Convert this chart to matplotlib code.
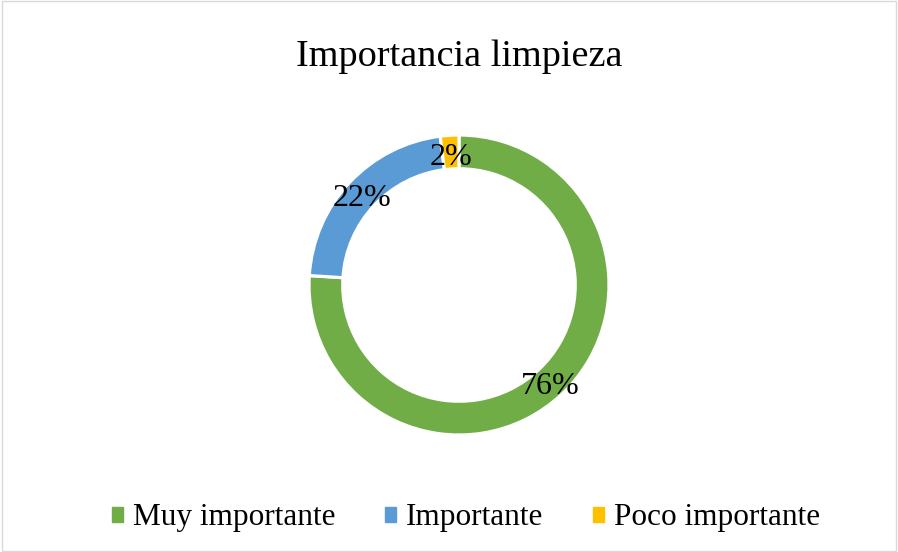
import matplotlib
matplotlib.use("Agg")
import matplotlib.pyplot as plt
from matplotlib.patches import Rectangle

categories = ["Muy importante", "Importante", "Poco importante"]
values = [76, 22, 2]
colors = ["#70AD47", "#5B9BD5", "#FFC000"]
title = "Importancia limpieza"

plt.rcParams['font.family'] = ['Liberation Serif', 'DejaVu Serif']

fig = plt.figure(figsize=(8.98, 5.52), dpi=100)
fig.patches.append(Rectangle((0.002, 0.002), 0.996, 0.996, transform=fig.transFigure,
                             fill=False, edgecolor="#D9D9D9", linewidth=1))

ax = fig.add_axes([(459 - 150) / 898, (552 - 285 - 150) / 552, 300 / 898, 300 / 552])
wedges, texts, autotexts = ax.pie(
    values, colors=colors, startangle=90, counterclock=False,
    autopct=lambda p: f"{p:.0f}%", pctdistance=0.885,
    wedgeprops=dict(width=0.225, edgecolor="white", linewidth=2.3),
    textprops=dict(fontsize=23, color="black"))
for t in autotexts:
    x, y = t.get_position()
    t.set_position((x, y - 0.03))
ax.set_aspect("equal")
ax.set_xlim(-1, 1)
ax.set_ylim(-1, 1)

fig.text(459 / 898, 1 - 57 / 552, title, ha="center", va="center", fontsize=27.5)

handles = [plt.Rectangle((0, 0), 1, 1, color=c) for c in colors]
fig.legend(handles, categories, loc="center", bbox_to_anchor=(466 / 898, 1 - 518 / 552),
           ncol=3, frameon=False, fontsize=22.5, handlelength=0.36, handleheight=0.36,
           columnspacing=1.6, handletextpad=0.3)

fig.savefig("out.png", dpi=100)
